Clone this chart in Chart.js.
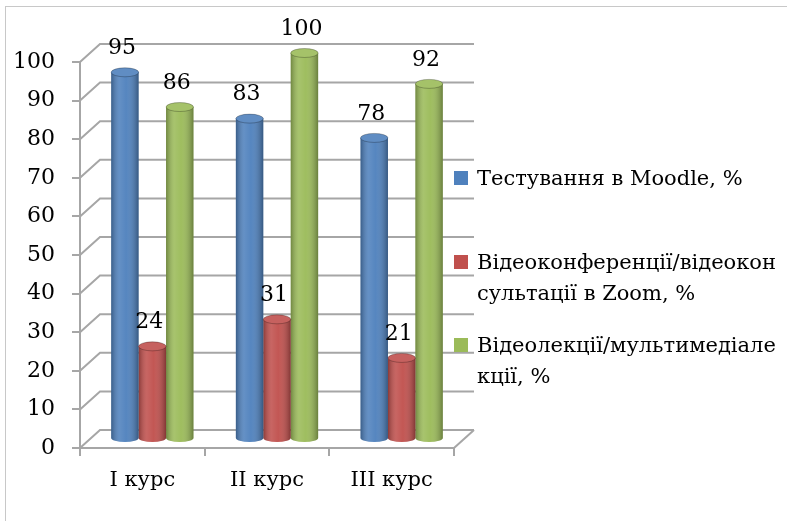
<!DOCTYPE html>
<html>
<head>
<meta charset="utf-8">
<script src="https://cdn.jsdelivr.net/npm/chart.js@4.4.1/dist/chart.umd.min.js"></script>
<style>
    html, body { margin: 0; padding: 0; background: #fff; }
    #wrap { position: relative; width: 787px; height: 521px; overflow: hidden; font-family: "DejaVu Serif", serif; }
    #frame { position: absolute; left: 5px; top: 6px; width: 820px; height: 560px; border: 1.5px solid #c8c8c8; }
    canvas { position: absolute; left: 0; top: 0; }
    .leg { position: absolute; left: 477px; font-size: 21px; line-height: 31px; color: #000; white-space: nowrap; }
    .box { position: absolute; left: 454px; width: 14px; height: 14px; }
</style>
</head>
<body>
<div id="wrap">
    <div id="frame"></div>
    <canvas id="c" width="787" height="521"></canvas>
    <div id="legend"></div>
</div>
<script>
// Chart data
const categories = ['I курс', 'II курс', 'III курс'];
const seriesNames = [
    'Тестування в Moodle, %',
    'Відеоконференції/відеоконсультації в Zoom, %',
    'Відеолекції/мультимедіалекції, %'
];
const legendLines = [
    ['Тестування в Moodle, %'],
    ['Відеоконференції/відеокон', 'сультації в Zoom, %'],
    ['Відеолекції/мультимедіале', 'кції, %']
];
const moodleValues = [95, 83, 78];
const zoomValues = [24, 31, 21];
const lectureValues = [86, 100, 92];
const seriesColors = ['#4F81BD', '#C0504D', '#9BBB59'];
const yMin = 0, yMax = 100, yStep = 10;

const FONT = { family: '"DejaVu Serif", serif', size: 22 };
const XFONT = { family: '"DejaVu Serif", serif', size: 21 };
const GRID = '#a6a6a6';
// depth of the 3D box: back wall offset from front axis
const DX = 20, DY = -18;

// back wall, side wall and floor lines + cylinder look for the bars
const wallPlugin = {
    id: 'wall3d',
    beforeDatasetsDraw(chart) {
        const ctx = chart.ctx;
        const y = chart.scales.y;
        const a = chart.chartArea;
        ctx.save();
        ctx.strokeStyle = GRID;
        ctx.lineWidth = 2;
        y.ticks.forEach(t => {
            const py = y.getPixelForValue(t.value);
            ctx.beginPath();
            ctx.moveTo(a.left, py);
            ctx.lineTo(a.left + DX, py + DY);
            ctx.lineTo(a.right + DX, py + DY);
            ctx.stroke();
        });
        ctx.beginPath();
        ctx.moveTo(a.right, a.bottom);
        ctx.lineTo(a.right + DX, a.bottom + DY);
        ctx.stroke();
        ctx.restore();

        // bars stand in the middle of the depth
        ctx.save();
        ctx.translate(DX / 2, DY / 2);
    },
    afterDatasetsDraw(chart) {
        const ctx = chart.ctx;
        chart.data.datasets.forEach((ds, i) => {
            const meta = chart.getDatasetMeta(i);
            meta.data.forEach(el => {
                const w = el.width, x = el.x, top = el.y, base = el.base;
                const l = x - w / 2;
                // bottom rounding
                ctx.beginPath();
                ctx.ellipse(x, base, w / 2, 4, 0, 0, Math.PI);
                ctx.fillStyle = ds.backgroundColor;
                ctx.fill();
                // side shading
                const g = ctx.createLinearGradient(l, 0, l + w, 0);
                g.addColorStop(0, 'rgba(0,0,0,0.28)');
                g.addColorStop(0.3, 'rgba(255,255,255,0.12)');
                g.addColorStop(0.55, 'rgba(255,255,255,0.04)');
                g.addColorStop(1, 'rgba(0,0,0,0.32)');
                ctx.fillStyle = g;
                ctx.fillRect(l, top, w, base - top);
                ctx.beginPath();
                ctx.ellipse(x, base, w / 2, 4, 0, 0, Math.PI);
                ctx.fill();
                // top cap
                ctx.beginPath();
                ctx.ellipse(x, top, w / 2, 4.5, 0, 0, Math.PI * 2);
                ctx.fillStyle = ds.backgroundColor;
                ctx.fill();
                ctx.fillStyle = 'rgba(255,255,255,0.1)';
                ctx.fill();
                ctx.strokeStyle = 'rgba(0,0,0,0.25)';
                ctx.lineWidth = 1;
                ctx.stroke();
            });
        });
        ctx.restore();

        // value labels
        ctx.save();
        ctx.font = FONT.size + 'px ' + FONT.family;
        ctx.fillStyle = '#000';
        ctx.textAlign = 'center';
        ctx.textBaseline = 'middle';
        chart.data.datasets.forEach((ds, i) => {
            chart.getDatasetMeta(i).data.forEach((el, j) => {
                ctx.fillText(ds.data[j], el.x + DX / 2 - 3, el.y + DY / 2 - 24);
            });
        });
        ctx.restore();
    }
};

const valueSets = [moodleValues, zoomValues, lectureValues];

new Chart(document.getElementById('c'), {
    type: 'bar',
    data: {
        labels: categories,
        datasets: valueSets.map((vals, i) => ({
            label: seriesNames[i],
            data: vals,
            backgroundColor: seriesColors[i],
            borderWidth: 0,
            barPercentage: 1,
            categoryPercentage: 0.66
        }))
    },
    options: {
        responsive: false,
        animation: false,
        layout: { padding: { top: 62, right: 333, bottom: 0, left: 0 } },
        plugins: {
            legend: { display: false },
            tooltip: { enabled: false }
        },
        scales: {
            x: {
                grid: { drawOnChartArea: false, tickLength: 8, color: GRID, lineWidth: 2, offset: true },
                border: { color: GRID, width: 2 },
                ticks: { color: '#000', font: XFONT, padding: 12 },
                afterFit(s) { s.height = 73; }
            },
            y: {
                min: yMin,
                max: yMax,
                ticks: { stepSize: yStep, color: '#000', font: FONT, padding: 17 },
                grid: { drawOnChartArea: false, tickLength: 8, color: GRID, lineWidth: 2 },
                border: { color: GRID, width: 2 },
                afterFit(s) { s.width = 80; }
            }
        }
    },
    plugins: [wallPlugin]
});

// legend with wrapped text, as in the original
const legendTops = [178, 262, 345];
const legend = document.getElementById('legend');
legendLines.forEach((lines, i) => {
    const box = document.createElement('div');
    box.className = 'box';
    box.style.top = (legendTops[i] - 7) + 'px';
    box.style.background = seriesColors[i];
    legend.appendChild(box);
    const txt = document.createElement('div');
    txt.className = 'leg';
    txt.style.top = (legendTops[i] - 15.5) + 'px';
    txt.innerHTML = lines.join('<br>');
    legend.appendChild(txt);
});
</script>
</body>
</html>
